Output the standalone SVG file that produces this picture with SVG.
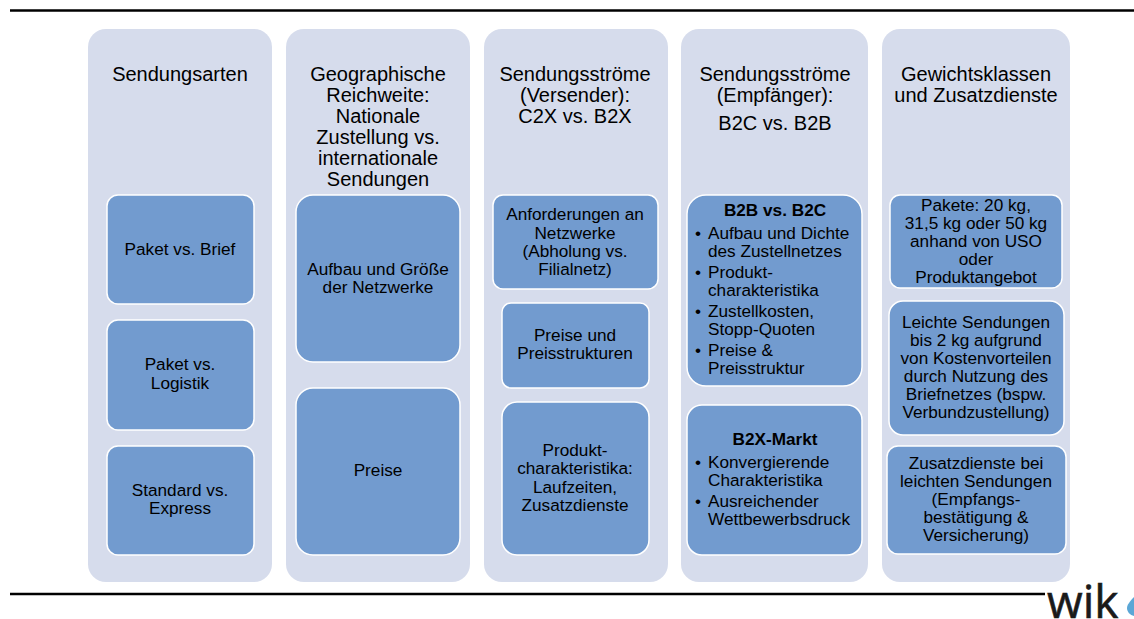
<svg xmlns="http://www.w3.org/2000/svg" width="1134" height="619" viewBox="0 0 1134 619">
<style>
text{font-family:"Liberation Sans",Arial,sans-serif;fill:#000}
.c{fill:#d6dcec}
.b{fill:#729bcf;stroke:#fff;stroke-width:1.5}
.h{font-size:20px;text-anchor:middle}
.t{font-size:17.2px;text-anchor:middle}
.l{font-size:17.2px}
.bd{font-weight:bold;font-size:17.2px;text-anchor:middle}
.r{stroke:#000;stroke-width:2.5;fill:none}
</style>
<g id="rules">
<line class="r" x1="10" y1="10.5" x2="1134" y2="10.5"/>
<line class="r" x1="10" y1="594" x2="1045" y2="594"/>
</g>
<g id="col1">
<rect class="c" x="88" y="29" width="184" height="553" rx="18"/>
<text class="h" x="180" y="81">Sendungsarten</text>
<rect class="b" x="107" y="195" width="147" height="109" rx="11"/>
<text class="t" x="180" y="255">Paket vs. Brief</text>
<rect class="b" x="107" y="320" width="147" height="110" rx="11"/>
<text class="t" x="180" y="370">Paket vs.</text><text class="t" x="180" y="389">Logistik</text>
<rect class="b" x="107" y="446" width="147" height="109" rx="11"/>
<text class="t" x="180" y="496">Standard vs.</text><text class="t" x="180" y="514">Express</text>
</g>
<g id="col2">
<rect class="c" x="286" y="29" width="184" height="553" rx="18"/>
<text class="h" x="378" y="81">Geographische</text><text class="h" x="378" y="102">Reichweite:</text><text class="h" x="378" y="123">Nationale</text><text class="h" x="378" y="144">Zustellung vs.</text><text class="h" x="378" y="165">internationale</text><text class="h" x="378" y="186">Sendungen</text>
<rect class="b" x="296" y="195" width="164" height="167" rx="17"/>
<text class="t" x="378" y="275">Aufbau und Größe</text><text class="t" x="378" y="293">der Netzwerke</text>
<rect class="b" x="296" y="388" width="164" height="167" rx="17"/>
<text class="t" x="378" y="476">Preise</text>
</g>
<g id="col3">
<rect class="c" x="484" y="29" width="184" height="553" rx="18"/>
<text class="h" x="575" y="81">Sendungsströme</text><text class="h" x="575" y="102">(Versender):</text><text class="h" x="575" y="123">C2X vs. B2X</text>
<rect class="b" x="493" y="195" width="165" height="94" rx="10"/>
<text class="t" x="575" y="220">Anforderungen an</text><text class="t" x="575" y="239">Netzwerke</text><text class="t" x="575" y="257">(Abholung vs.</text><text class="t" x="575" y="275">Filialnetz)</text>
<rect class="b" x="502" y="303" width="147" height="85" rx="9"/>
<text class="t" x="575" y="341">Preise und</text><text class="t" x="575" y="359">Preisstrukturen</text>
<rect class="b" x="502" y="402" width="147" height="153" rx="15"/>
<text class="t" x="575" y="456">Produkt-</text><text class="t" x="575" y="474">charakteristika:</text><text class="t" x="575" y="493">Laufzeiten,</text><text class="t" x="575" y="511">Zusatzdienste</text>
</g>
<g id="col4">
<rect class="c" x="681" y="29" width="187" height="553" rx="18"/>
<text class="h" x="775" y="81">Sendungsströme</text><text class="h" x="775" y="102">(Empfänger):</text><text class="h" x="775" y="130">B2C vs. B2B</text>
<rect class="b" x="687" y="195" width="175" height="191" rx="19"/>
<text class="bd" x="775" y="216">B2B vs. B2C</text>
<g class="l">
<text x="695" y="239">•</text><text x="708" y="239">Aufbau und Dichte</text><text x="708" y="257">des Zustellnetzes</text>
<text x="695" y="278">•</text><text x="708" y="278">Produkt-</text><text x="708" y="296">charakteristika</text>
<text x="695" y="317">•</text><text x="708" y="317">Zustellkosten,</text><text x="708" y="335">Stopp-Quoten</text>
<text x="695" y="356">•</text><text x="708" y="356">Preise &amp;</text><text x="708" y="374">Preisstruktur</text>
</g>
<rect class="b" x="687" y="405" width="175" height="150" rx="15"/>
<text class="bd" x="775" y="445">B2X-Markt</text>
<g class="l">
<text x="695" y="468">•</text><text x="708" y="468">Konvergierende</text><text x="708" y="486">Charakteristika</text>
<text x="695" y="507">•</text><text x="708" y="507">Ausreichender</text><text x="708" y="525">Wettbewerbsdruck</text>
</g>
</g>
<g id="col5">
<rect class="c" x="882" y="29" width="188" height="553" rx="18"/>
<text class="h" x="976" y="81">Gewichtsklassen</text><text class="h" x="976" y="102">und Zusatzdienste</text>
<rect class="b" x="890" y="195" width="172" height="93" rx="10"/>
<text class="t" x="976" y="211">Pakete: 20 kg,</text><text class="t" x="976" y="229">31,5 kg oder 50 kg</text><text class="t" x="976" y="247">anhand von USO</text><text class="t" x="976" y="265">oder</text><text class="t" x="976" y="283">Produktangebot</text>
<rect class="b" x="889" y="301" width="175" height="134" rx="14"/>
<text class="t" x="976" y="328">Leichte Sendungen</text><text class="t" x="976" y="346">bis 2 kg aufgrund</text><text class="t" x="976" y="364">von Kostenvorteilen</text><text class="t" x="976" y="382">durch Nutzung des</text><text class="t" x="976" y="400">Briefnetzes (bspw.</text><text class="t" x="976" y="418">Verbundzustellung)</text>
<rect class="b" x="887" y="446" width="179" height="108" rx="11"/>
<text class="t" x="976" y="469">Zusatzdienste bei</text><text class="t" x="976" y="487">leichten Sendungen</text><text class="t" x="976" y="505">(Empfangs-</text><text class="t" x="976" y="523">bestätigung &amp;</text><text class="t" x="976" y="541">Versicherung)</text>
</g>
<g id="logo">
<text x="1047" y="618" style="font-family:'Open Sans','DejaVu Sans',sans-serif;font-size:46px;fill:#1a1a1a;stroke:#1a1a1a;stroke-width:.6">wik</text>
<path d="M1134 597 C1130 601 1127 605 1127 608 C1127 612 1130 615 1134 616 Z" fill="#5ba7d6"/>
</g>
</svg>
